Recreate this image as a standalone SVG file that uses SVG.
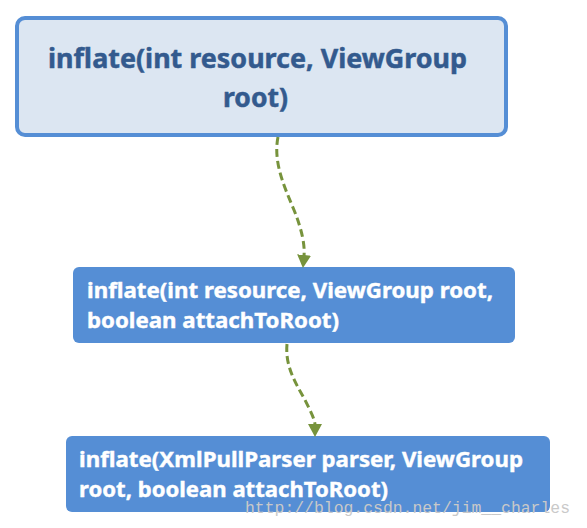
<svg xmlns="http://www.w3.org/2000/svg" width="587" height="528" viewBox="0 0 587 528">
<style>
.t{font-family:"Noto Sans","Open Sans","Liberation Sans",sans-serif;font-weight:bold}
.top{fill:#335a8e;stroke:#335a8e;stroke-width:0.5;font-size:27px}
.w{fill:#ffffff;stroke:#ffffff;stroke-width:0.4;font-size:20.5px}
.box{fill:#558ed5}
.conn{fill:none;stroke:#77933c;stroke-width:3;stroke-dasharray:8,4}
.wm{font-family:"Liberation Mono","DejaVu Sans Mono",monospace;font-size:16px;fill:#c9c9c9}
</style>
<defs>
<marker id="ah" markerUnits="userSpaceOnUse" markerWidth="16" markerHeight="16" refX="1" refY="7" orient="auto">
<path d="M0,0 L13,7 L0,14 Z" fill="#77933c"/>
</marker>
</defs>
<rect width="587" height="528" fill="#ffffff"/>
<g id="n1">
<rect x="17" y="18" width="489" height="117" rx="8" fill="#dce6f2" stroke="#558ed5" stroke-width="4"/>
<text class="t top" x="48" y="68" textLength="419" lengthAdjust="spacingAndGlyphs">inflate(int resource, ViewGroup</text>
<text class="t top" x="223" y="107" textLength="65" lengthAdjust="spacingAndGlyphs">root)</text>
</g>
<g id="n2">
<rect class="box" x="73" y="267" width="442" height="76" rx="6"/>
<text class="t w" x="87" y="298" textLength="406" lengthAdjust="spacingAndGlyphs">inflate(int resource, ViewGroup root,</text>
<text class="t w" x="87" y="328" textLength="252" lengthAdjust="spacingAndGlyphs">boolean attachToRoot)</text>
</g>
<g id="n3">
<rect class="box" x="66" y="436" width="484" height="76" rx="6"/>
<text class="t w" x="79" y="467" textLength="444" lengthAdjust="spacingAndGlyphs">inflate(XmlPullParser parser, ViewGroup</text>
<text class="t w" x="79" y="497" textLength="309" lengthAdjust="spacingAndGlyphs">root, boolean attachToRoot)</text>
</g>
<g id="connectors">
<path class="conn" d="M278,137 C273,162 284,186 294,210 C302,230 305,245 304,256" marker-end="url(#ah)"/>
<path class="conn" d="M287,344 C285,366 295,382 305,400 C311,412 315,420 315,425" marker-end="url(#ah)"/>
</g>
<text class="wm" x="245" y="513" textLength="325" lengthAdjust="spacingAndGlyphs">http://blog.csdn.net/jim__charles</text>
</svg>
